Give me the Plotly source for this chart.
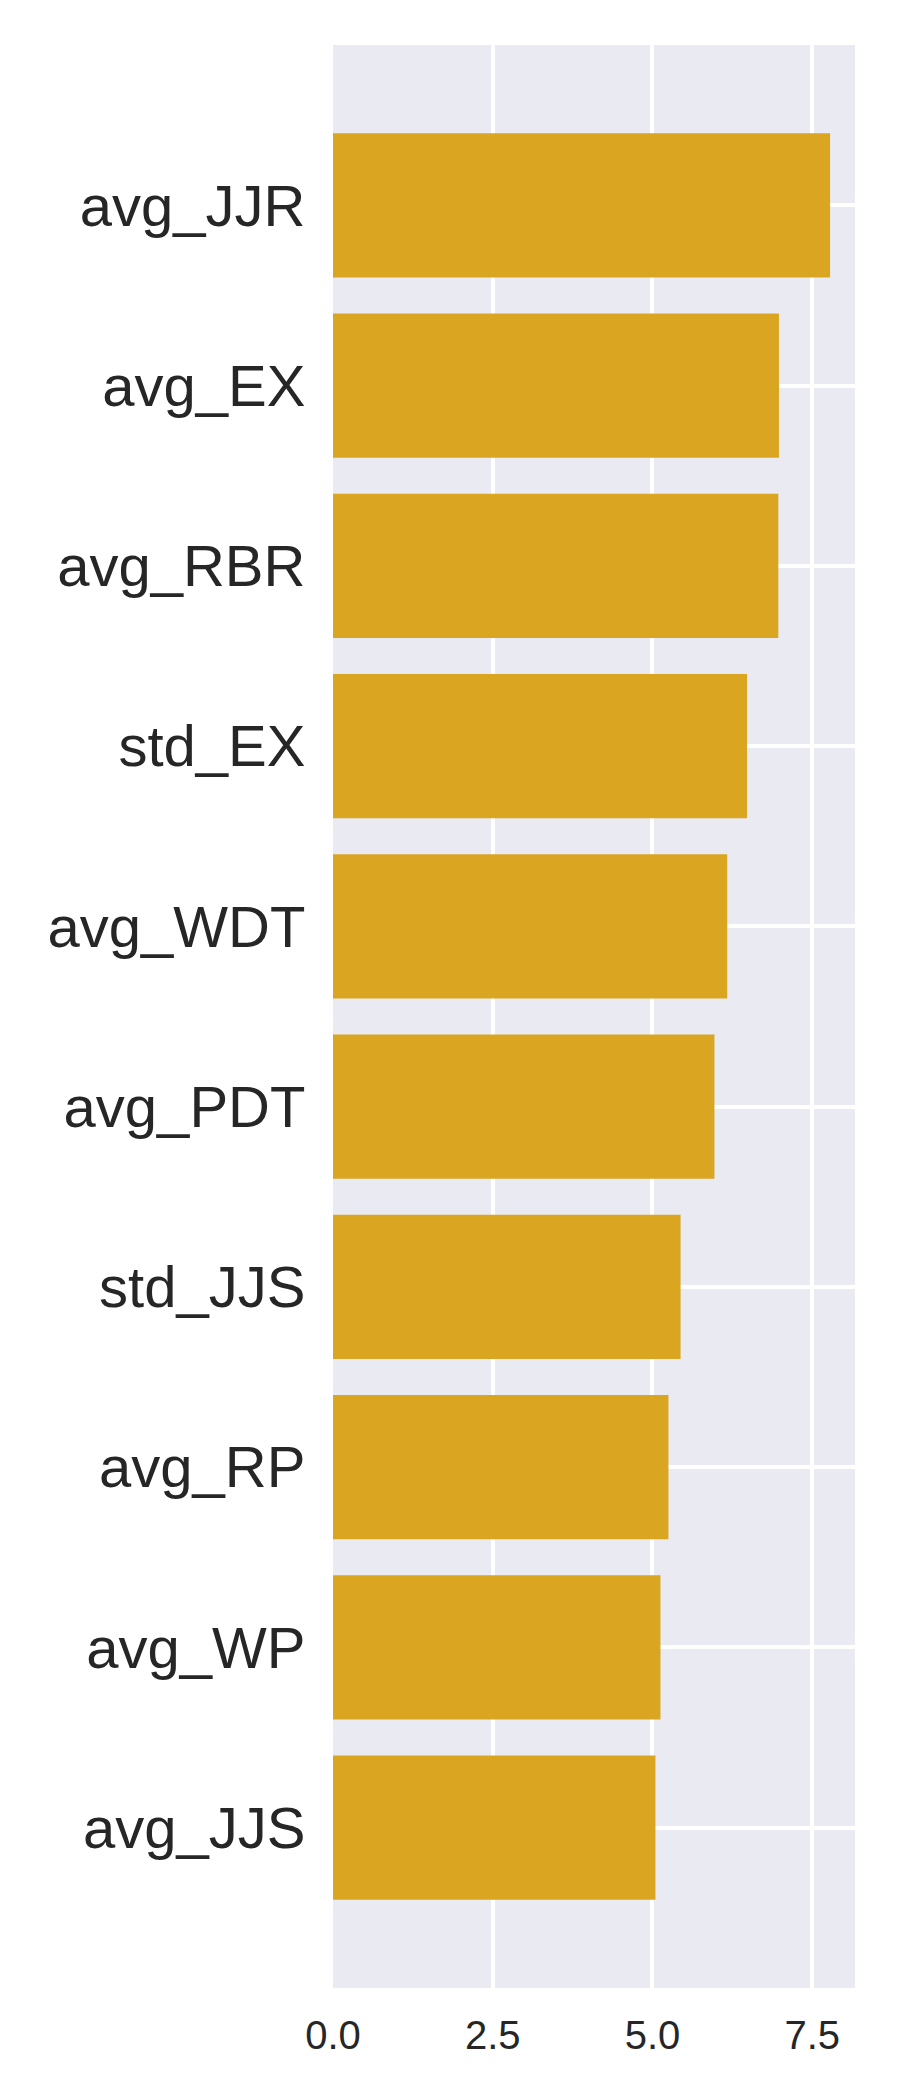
import plotly.graph_objects as go

categories = ["avg_JJR", "avg_EX", "avg_RBR", "std_EX", "avg_WDT",
              "avg_PDT", "std_JJS", "avg_RP", "avg_WP", "avg_JJS"]
values = [7.78, 6.98, 6.97, 6.48, 6.17, 5.97, 5.44, 5.25, 5.125, 5.047]
x_ticks = [0.0, 2.5, 5.0, 7.5]
x_tick_labels = ["0.0", "2.5", "5.0", "7.5"]

fig = go.Figure(go.Bar(
    x=values, y=categories, orientation="h",
    marker=dict(color="#DAA520", line=dict(width=0)),
    width=0.8,
))

fig.update_layout(
    width=900, height=2100,
    margin=dict(l=325, r=53, t=37, b=120),
    paper_bgcolor="white", plot_bgcolor="#EAEAF2",
    font=dict(family="Liberation Sans, Arial, sans-serif", color="#262626"),
    showlegend=False,
)
fig.update_xaxes(
    range=[0, 8.17], tickvals=x_ticks, ticktext=x_tick_labels,
    showgrid=True, gridcolor="white", gridwidth=4,
    zeroline=False, showline=False,
    tickfont=dict(size=40, color="#262626"),
    ticks="outside", ticklen=0, tickcolor="rgba(0,0,0,0)",
    ticklabelstandoff=12,
)
fig.update_yaxes(
    type="category", categoryorder="array", categoryarray=categories,
    range=[9.89, -0.89],
    showgrid=True, gridcolor="white", gridwidth=4,
    zeroline=False, showline=False,
    tickfont=dict(size=58, color="#262626"),
    ticks="outside", ticklen=0, tickcolor="rgba(0,0,0,0)",
    ticklabelstandoff=15,
)

fig.write_html("out.html")
